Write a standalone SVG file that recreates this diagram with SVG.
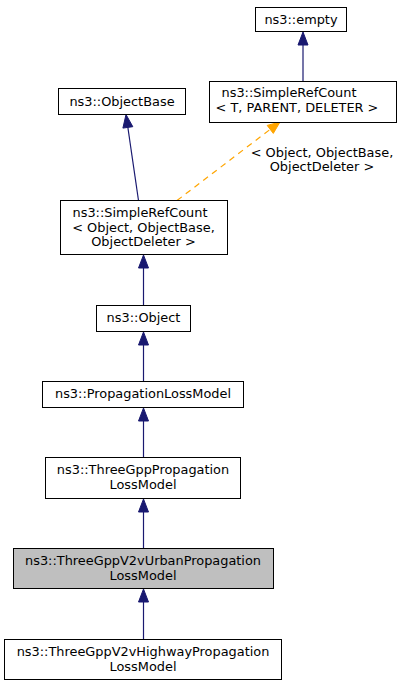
<svg xmlns="http://www.w3.org/2000/svg" width="402" height="685" viewBox="0 0 402 685">
<style>
.n rect{fill:#fff;stroke:#000;stroke-width:1}
.n text{font-family:"DejaVu Sans",sans-serif;font-size:12.9px;text-anchor:middle;fill:#000}
.e line{stroke:#191970;stroke-width:1.2}
.e polygon{fill:#191970;stroke:#191970}
.lbl{font-family:"DejaVu Sans",sans-serif;font-size:12.9px;text-anchor:middle;fill:#000}
</style>
<rect width="402" height="685" fill="#fff"/>
<g id="connectors" class="e">
<line x1="303" y1="81" x2="303" y2="44"/>
<polygon points="303,32 298,45 308,45"/>
<line x1="138.5" y1="200.5" x2="127.8" y2="127"/>
<polygon points="126,114.5 122.9,128.1 132.8,126.7"/>
<line x1="177" y1="200.5" x2="270" y2="129.5" style="stroke:#ffa500;stroke-dasharray:6,5"/>
<polygon points="280,122 267.2,125.4 273.3,133.4" style="fill:#ffa500;stroke:#ffa500"/>
<line x1="143.5" y1="305.5" x2="143.5" y2="268"/>
<polygon points="143.5,255 138.5,268 148.5,268"/>
<line x1="143.5" y1="381.5" x2="143.5" y2="344"/>
<polygon points="143.5,332 138.5,345 148.5,345"/>
<line x1="143.5" y1="457.5" x2="143.5" y2="420"/>
<polygon points="143.5,408 138.5,421 148.5,421"/>
<line x1="143.5" y1="548.5" x2="143.5" y2="511"/>
<polygon points="143.5,499 138.5,512 148.5,512"/>
<line x1="143.5" y1="639.5" x2="143.5" y2="602"/>
<polygon points="143.5,589 138.5,602 148.5,602"/>
</g>
<text class="lbl" x="322" y="157">&lt; Object, ObjectBase,</text>
<text class="lbl" x="322" y="171">ObjectDeleter &gt;</text>
<g id="empty" class="n"><rect x="255.5" y="7.5" width="91" height="24"/><text x="301" y="24">ns3::empty</text></g>
<g id="SimpleRefCountT" class="n"><rect x="209.5" y="81.5" width="187" height="41"/><text x="289" y="97">ns3::SimpleRefCount</text><text x="297" y="111.5">&lt; T, PARENT, DELETER &gt;</text></g>
<g id="ObjectBase" class="n"><rect x="58.5" y="88.5" width="127" height="26"/><text x="122" y="105.5">ns3::ObjectBase</text></g>
<g id="SimpleRefCountObject" class="n"><rect x="60.5" y="200.5" width="167" height="54"/><text x="140" y="217">ns3::SimpleRefCount</text><text x="143.5" y="231.5">&lt; Object, ObjectBase,</text><text x="143.5" y="246">ObjectDeleter &gt;</text></g>
<g id="Object" class="n"><rect x="96.5" y="305.5" width="94" height="26"/><text x="143.5" y="322">ns3::Object</text></g>
<g id="PropagationLossModel" class="n"><rect x="42.5" y="381.5" width="201" height="26"/><text x="143" y="398">ns3::PropagationLossModel</text></g>
<g id="ThreeGppPropagationLossModel" class="n"><rect x="45.5" y="457.5" width="195" height="41"/><text x="143" y="474">ns3::ThreeGppPropagation</text><text x="143" y="488.5">LossModel</text></g>
<g id="ThreeGppV2vUrbanPropagationLossModel" class="n"><rect x="13.5" y="548.5" width="260" height="40" style="fill:#bfbfbf"/><text x="143" y="565">ns3::ThreeGppV2vUrbanPropagation</text><text x="143" y="579.5">LossModel</text></g>
<g id="ThreeGppV2vHighwayPropagationLossModel" class="n"><rect x="4.5" y="639.5" width="277" height="40"/><text x="143" y="656">ns3::ThreeGppV2vHighwayPropagation</text><text x="143" y="670.5">LossModel</text></g>
</svg>
